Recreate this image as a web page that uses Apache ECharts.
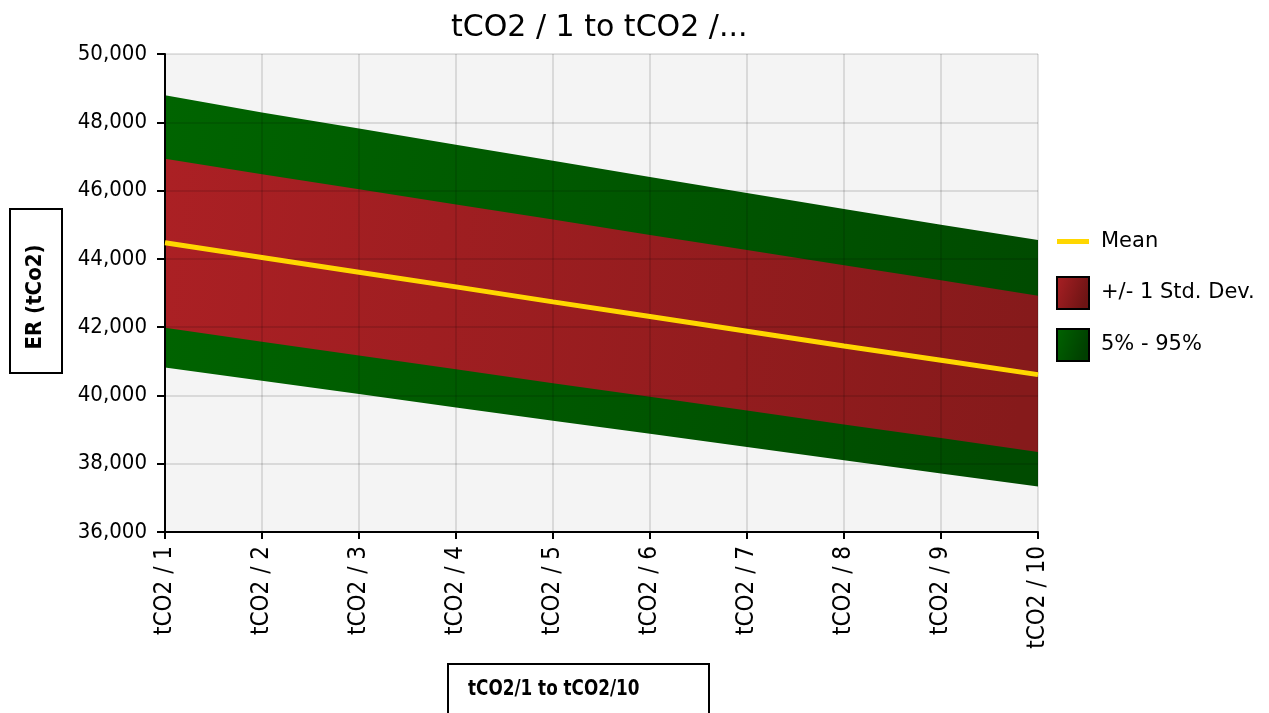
<!DOCTYPE html>
<html>
<head>
<meta charset="utf-8">
<title>ER (tCo2)</title>
<script src="https://cdn.jsdelivr.net/npm/echarts@6/dist/echarts.min.js"></script>
<style>
  html, body { margin: 0; padding: 0; background: #fff; }
  #chart { width: 1269px; height: 713px; }
</style>
</head>
<body>
<div id="chart"></div>
<script>
// Periods on the x axis
const categories = ['tCO2 / 1', 'tCO2 / 2', 'tCO2 / 3', 'tCO2 / 4', 'tCO2 / 5',
                    'tCO2 / 6', 'tCO2 / 7', 'tCO2 / 8', 'tCO2 / 9', 'tCO2 / 10'];

// Emission reductions (tCO2) per period
const p5     = [40820, 40430, 40040, 39650, 39260, 38880, 38490, 38100, 37710, 37330];
const sdLow  = [41980, 41570, 41170, 40770, 40360, 39960, 39560, 39150, 38750, 38340];
const mean   = [44470, 44040, 43610, 43180, 42740, 42310, 41880, 41450, 41030, 40610];
const sdHigh = [46930, 46480, 46040, 45590, 45150, 44700, 44260, 43810, 43370, 42920];
const p95    = [48790, 48290, 47820, 47340, 46870, 46400, 45930, 45460, 45000, 44550];

const NARROW = "'DejaVu Sans Condensed', 'DejaVu Sans', sans-serif";
const WIDE = "'DejaVu Sans', sans-serif";

// Band thicknesses for the stacked areas
const diff = (a, b) => a.map((v, i) => v - b[i]);
const outerBand = diff(p95, p5);
const innerBand = diff(sdHigh, sdLow);

const grad = (c0, c1) => new echarts.graphic.LinearGradient(0, 0, 1, 0.35, [
  { offset: 0, color: c0 }, { offset: 1, color: c1 }
]);
const redFill   = grad('#ab2024', '#861a1b');
const greenFill = grad('#006400', '#004b00');

const chart = echarts.init(document.getElementById('chart'), null, { renderer: 'canvas' });

// invisible lower edge of a stacked band
const baseSeries = (name, stack, data) => ({
  name, type: 'line', stack, data,
  symbol: 'none', silent: true, lineStyle: { width: 0, opacity: 0 }, z: 2
});

const bandSeries = (name, stack, data, fill, z) => ({
  name, type: 'line', stack, data,
  symbol: 'none', silent: true,
  lineStyle: { width: 0, opacity: 0 },
  itemStyle: { color: fill },
  areaStyle: { color: fill, opacity: 1 },
  z
});

chart.setOption({
  animation: false,
  backgroundColor: '#ffffff',
  title: {
    text: 'tCO2 / 1 to tCO2 /...',
    left: 446, top: 8,
    textStyle: { fontFamily: WIDE, fontSize: 30, fontWeight: 'normal', color: '#000' }
  },
  grid: {
    left: 165, right: 231, top: 54, bottom: 181,
    show: true, backgroundColor: '#f4f4f4', borderWidth: 0
  },
  legend: [
    {
      data: [{ name: 'Mean', icon: 'rect', itemStyle: { color: '#ffd700' } }],
      left: 1057, top: 231, padding: 0, itemWidth: 32, itemHeight: 5, itemGap: 10,
      textStyle: { fontFamily: WIDE, fontSize: 21, color: '#000', padding: [0, 0, 0, 7] },
      selectedMode: false
    },
    {
      orient: 'vertical',
      data: [
        { name: '+/- 1 Std. Dev.', icon: 'rect',
          itemStyle: { color: grad('#aa2024', '#6e1414'), borderColor: '#000', borderWidth: 2 } },
        { name: '5% - 95%', icon: 'rect',
          itemStyle: { color: grad('#006400', '#003f00'), borderColor: '#000', borderWidth: 2 } }
      ],
      left: 1056, top: 276, padding: 0, itemWidth: 32, itemHeight: 32, itemGap: 18,
      textStyle: { fontFamily: WIDE, fontSize: 21, color: '#000', padding: [0, 0, 0, 7] },
      selectedMode: false
    }
  ],
  xAxis: {
    type: 'category',
    data: categories,
    boundaryGap: false,
    z: 5,
    axisLine: { show: true, lineStyle: { color: '#000', width: 2 } },
    axisTick: { show: true, length: 7, lineStyle: { color: '#000', width: 2 } },
    axisLabel: { rotate: 90, margin: 14, fontFamily: NARROW, fontSize: 24, color: '#000' },
    splitLine: { show: true, lineStyle: { color: 'rgba(0,0,0,0.11)', width: 2 } }
  },
  yAxis: {
    type: 'value',
    min: 36000, max: 50000, interval: 2000,
    z: 5,
    axisLine: { show: true, lineStyle: { color: '#000', width: 2 } },
    axisTick: { show: true, length: 8, lineStyle: { color: '#000', width: 2 } },
    axisLabel: {
      margin: 18, fontFamily: NARROW, fontSize: 22, color: '#000',
      formatter: v => v.toLocaleString('en-US')
    },
    splitLine: { show: true, lineStyle: { color: 'rgba(0,0,0,0.11)', width: 2 } }
  },
  graphic: [
    { type: 'rect', left: 9, top: 208, shape: { width: 52, height: 164 },
      style: { fill: '#fff', stroke: '#000', lineWidth: 2 } },
    { type: 'text', x: 35, y: 297, rotation: Math.PI / 2,
      style: { text: 'ER (tCo2)', fontFamily: NARROW, fontWeight: 'bold', fontSize: 22,
               fill: '#000', align: 'center', verticalAlign: 'middle' } },
    { type: 'rect', left: 447, top: 663, shape: { width: 261, height: 70 },
      style: { fill: '#fff', stroke: '#000', lineWidth: 2 } },
    { type: 'text', x: 468, y: 689, scaleX: 0.85,
      style: { text: 'tCO2/1 to tCO2/10', fontFamily: NARROW, fontWeight: 'bold', fontSize: 22,
               fill: '#000', align: 'left', verticalAlign: 'middle' } }
  ],
  series: [
    baseSeries('p5base', 'outer', p5),
    bandSeries('5% - 95%', 'outer', outerBand, greenFill, 2),
    baseSeries('sdbase', 'inner', sdLow),
    bandSeries('+/- 1 Std. Dev.', 'inner', innerBand, redFill, 3),
    {
      name: 'Mean', type: 'line', data: mean,
      symbol: 'none', silent: true,
      lineStyle: { color: '#ffd700', width: 5 },
      itemStyle: { color: '#ffd700' },
      z: 6
    }
  ]
});
</script>
</body>
</html>
